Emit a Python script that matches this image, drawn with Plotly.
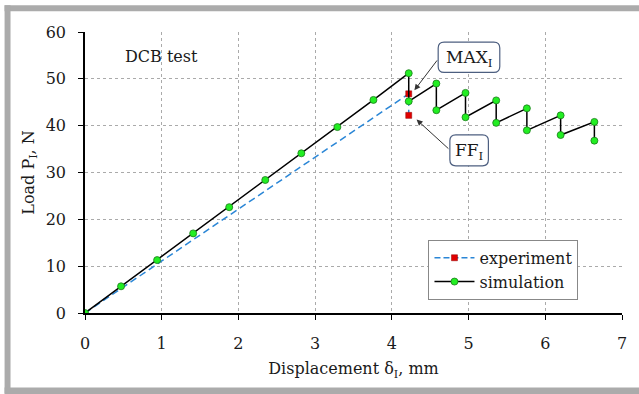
import plotly.graph_objects as go

# ---- data ----
sim_x = [0, 0.47, 0.94, 1.41, 1.88, 2.35, 2.82, 3.29, 3.76, 4.22, 4.22, 4.58, 4.58, 4.96, 4.96,
         5.36, 5.36, 5.76, 5.76, 6.20, 6.20, 6.64, 6.64]
sim_y = [0, 5.7, 11.3, 17.0, 22.6, 28.4, 34.1, 39.7, 45.5, 51.2, 45.2, 49.0, 43.3, 47.0, 41.8,
         45.4, 40.6, 43.7, 39.0, 42.2, 38.0, 40.8, 36.8]
exp_x = [0, 4.22, 4.22]
exp_y = [0, 46.8, 42.2]
exp_marker_x = [4.22, 4.22]
exp_marker_y = [46.8, 42.2]
x_ticks = [0, 1, 2, 3, 4, 5, 6, 7]
y_ticks = [0, 10, 20, 30, 40, 50, 60]

W, H = 639, 394
L, R, T, B = 85.2, 11.6, 31.7, 80.7
PW, PH = W - L - R, H - T - B

def px2paper(px, py):
    return (px - L) / PW, (H - B - py) / PH

FONT = "DejaVu Serif"
BLUE = "#2a86d6"
TXT = "#1a1a1a"
fig = go.Figure()

fig.add_trace(go.Scatter(x=exp_x, y=exp_y, mode="lines", showlegend=False,
                         line=dict(color=BLUE, width=1.5, dash="7px,4px")))
fig.add_trace(go.Scatter(x=exp_marker_x, y=exp_marker_y, mode="markers", showlegend=False,
                         marker=dict(symbol="square", size=6, color="#e00000",
                                     line=dict(color="#900000", width=0.5))))
fig.add_trace(go.Scatter(x=sim_x, y=sim_y, mode="lines+markers", showlegend=False,
                         line=dict(color="black", width=1.5),
                         marker=dict(size=7, color="#22ee22", line=dict(color="#1a7a1a", width=0.8))))
# legend entries
fig.add_trace(go.Scatter(x=[None], y=[None], mode="lines+markers", name="experiment",
                         line=dict(color=BLUE, width=1.5, dash="6px,3px"),
                         marker=dict(symbol="square", size=6, color="#e00000",
                                     line=dict(color="#900000", width=0.5))))
fig.add_trace(go.Scatter(x=[None], y=[None], mode="lines+markers", name="simulation",
                         line=dict(color="black", width=1.5),
                         marker=dict(size=7, color="#22ee22", line=dict(color="#1a7a1a", width=0.8))))

shapes = []
GRAY = "#ababab"
def rect(px0, py0, px1, py1, color):
    x0, y0 = px2paper(px0, py1)
    x1, y1 = px2paper(px1, py0)
    return dict(type="rect", xref="paper", yref="paper", x0=x0, y0=y0, x1=x1, y1=y1,
                fillcolor=color, line=dict(width=0), layer="below")
shapes.append(rect(4, 5, 660, 11, GRAY))
shapes.append(rect(4, 5, 10, 394, GRAY))
shapes.append(rect(4, 388, 660, 400, GRAY))

def rounded(px0, py0, px1, py1, r=6):
    def p(x, y):
        a, b = px2paper(x, y)
        return f"{a:.5f},{b:.5f}"
    path = (f"M {p(px0 + r, py0)} L {p(px1 - r, py0)} Q {p(px1, py0)} {p(px1, py0 + r)} "
            f"L {p(px1, py1 - r)} Q {p(px1, py1)} {p(px1 - r, py1)} "
            f"L {p(px0 + r, py1)} Q {p(px0, py1)} {p(px0, py1 - r)} "
            f"L {p(px0, py0 + r)} Q {p(px0, py0)} {p(px0 + r, py0)} Z")
    return dict(type="path", xref="paper", yref="paper", path=path, fillcolor="white",
                line=dict(color="#4d5f80", width=1.2), layer="above")
shapes.append(rounded(441.8, 41.8, 504, 72.2))
shapes.append(rounded(453.6, 134.7, 492.5, 165.8))

annotations = []
annotations.append(dict(x=4.294, y=47.56, ax=4.604, ay=54.25, axref="x", ayref="y", xref="x", yref="y",
                        text="", showarrow=True, arrowhead=2, arrowsize=1.2, arrowwidth=1,
                        arrowcolor="#333333"))
annotations.append(dict(x=4.322, y=41.3, ax=4.757, ay=34.8, axref="x", ayref="y", xref="x", yref="y",
                        text="", showarrow=True, arrowhead=2, arrowsize=1.2, arrowwidth=1,
                        arrowcolor="#333333"))
def label(text, px, py, size):
    x, y = px2paper(px, py)
    return dict(x=x, y=y, xref="paper", yref="paper", xanchor="center", yanchor="middle",
                text=text, showarrow=False, font=dict(family=FONT, size=size, color=TXT))
annotations.append(label("MAX<sub>I</sub>", 473, 58, 17))
annotations.append(label("FF<sub>I</sub>", 473, 151, 17))
annotations.append(label("DCB test", 162, 56.7, 16))

lx, ly = px2paper(432, 240)
axis_common = dict(ticks="outside", ticklen=5, tickcolor="black", tickwidth=1,
                   showline=True, linecolor="black", linewidth=1.5, zeroline=False,
                   showgrid=True, gridcolor="#aaaaaa", griddash="3px,3px", gridwidth=1,
                   tickfont=dict(size=16, color=TXT))
fig.update_layout(
    width=W, height=H,
    margin=dict(l=L, r=R, t=T, b=B, pad=0),
    paper_bgcolor="white", plot_bgcolor="white",
    font=dict(family=FONT, size=16, color=TXT),
    shapes=shapes, annotations=annotations,
    legend=dict(x=lx, y=ly, xanchor="left", yanchor="top", bgcolor="white",
                bordercolor="#888888", borderwidth=1, font=dict(family=FONT, size=16, color=TXT),
                tracegroupgap=0, itemwidth=40),
    xaxis=dict(range=[0, 7], tickvals=x_ticks, ticklabelstandoff=10,
               title=dict(text="Displacement δ<sub>I</sub>, mm", standoff=11, font=dict(size=16)),
               **axis_common),
    yaxis=dict(range=[0, 60], tickvals=y_ticks, ticklabelstandoff=9,
               title=dict(text="Load P<sub>I</sub>, N", standoff=7, font=dict(size=16)),
               **axis_common),
)
fig.write_html("out.html")
